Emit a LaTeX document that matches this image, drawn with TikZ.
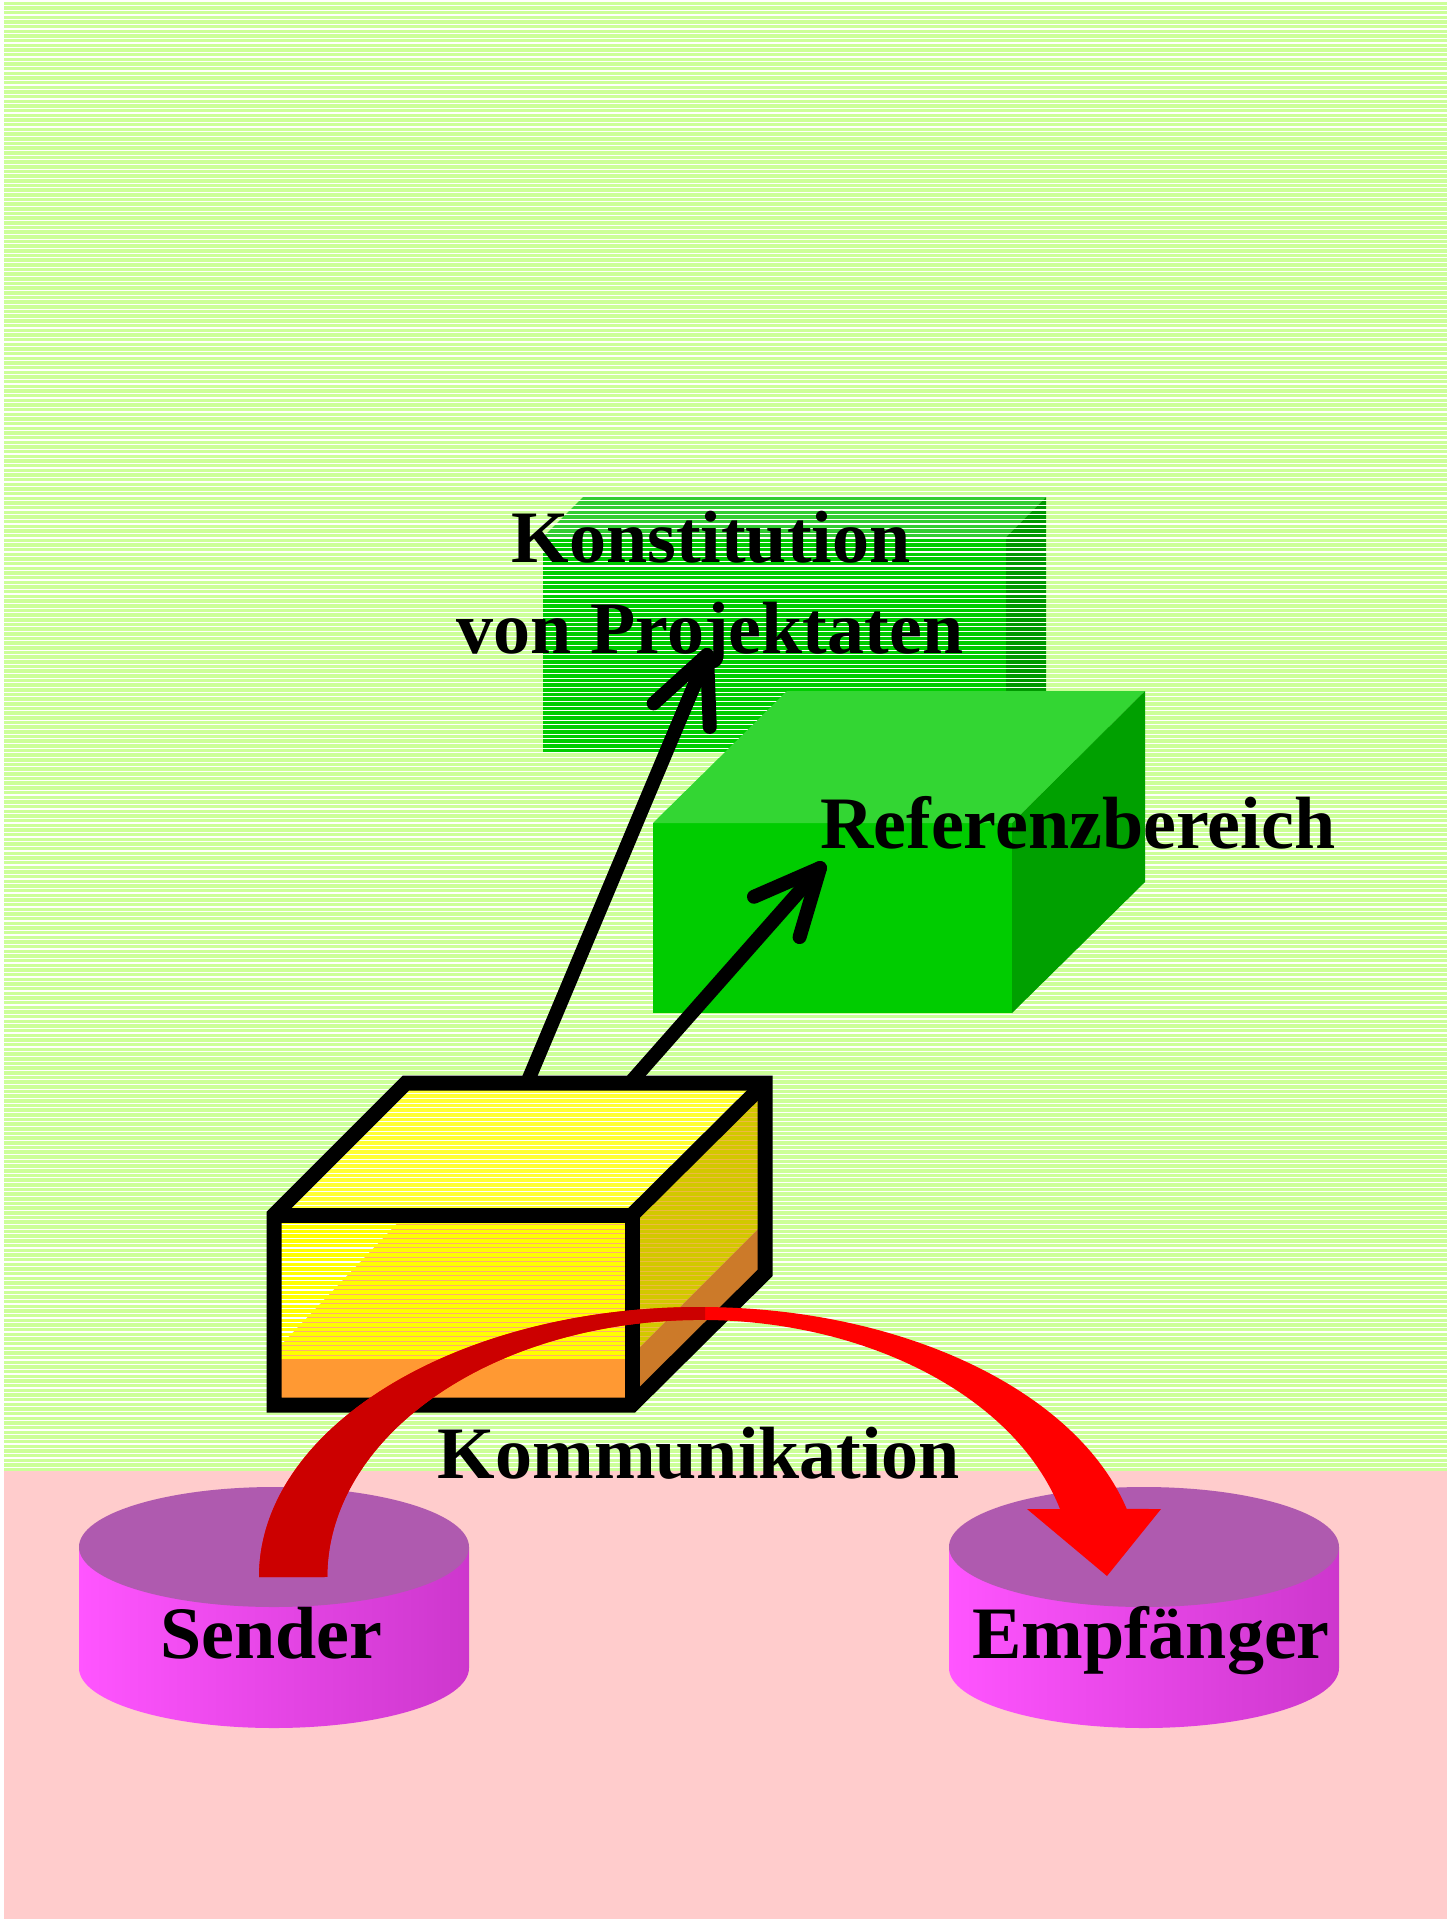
\documentclass[tikz,border=0pt]{standalone}
\usepackage{fontspec}
\setmainfont{Liberation Serif}
\usetikzlibrary{calc}
\definecolor{bggreen}{RGB}{204,255,153}
\definecolor{bgpink}{RGB}{255,204,204}
\definecolor{kfront}{RGB}{0,204,0}
\definecolor{ktop}{RGB}{51,204,51}
\definecolor{kside}{RGB}{0,153,0}
\definecolor{rtop}{RGB}{51,214,51}
\definecolor{rside}{RGB}{0,160,0}
\definecolor{yfront}{RGB}{255,255,0}
\definecolor{ytop}{RGB}{255,255,51}
\definecolor{yside}{RGB}{210,200,0}
\definecolor{orfront}{RGB}{255,153,51}
\definecolor{orside}{RGB}{204,122,41}
\definecolor{ystripe}{RGB}{255,175,110}
\definecolor{cyltop}{RGB}{175,90,175}
\definecolor{cylleft}{RGB}{255,85,255}
\definecolor{cylright}{RGB}{205,55,205}
\definecolor{darkred}{RGB}{204,0,0}
\definecolor{brightred}{RGB}{255,0,0}
\begin{document}
\begin{tikzpicture}[x=1pt,y=-1pt,
  lbl/.style={font=\bfseries\fontsize{74}{80}\selectfont, inner sep=0pt, anchor=base},
  stripe/.style={white, line width=1.2pt},
  boxline/.style={line width=15pt, line join=miter, black},
  arr/.style={line width=14pt, line cap=round, line join=round, black}]
\useasboundingbox (0,0) rectangle (1447,1919);
% background
\fill[white] (0,0) rectangle (1447,1919);
\fill[bggreen] (4,0) rectangle (1447,1471);
\fill[bgpink] (4,1471) rectangle (1447,1919);
% Konstitution box (under the stripes)
\fill[kfront] (543,537) rectangle (1006,752);
\fill[ktop] (543,537) -- (583,497) -- (1046,497) -- (1006,537) -- cycle;
\fill[kside] (1006,537) -- (1046,497) -- (1046,712) -- (1006,752) -- cycle;
% stripes of the green area
\foreach \i in {0,...,314} {\draw[stripe] (4,{\i*4.67+1}) -- (1447,{\i*4.67+1});}
% Referenzbereich box
\fill[kfront] (653,823) rectangle (1012,1013);
\fill[rtop] (653,823) -- (787,691) -- (1145,691) -- (1012,823) -- cycle;
\fill[rside] (1012,823) -- (1145,691) -- (1145,882) -- (1012,1013) -- cycle;
% black arrows
\coordinate (a1s) at (527,1083);
\coordinate (a1t) at (707,655);
\coordinate (a2s) at (630,1083);
\coordinate (a2t) at (820,868);
\draw[arr] (a1s) -- (a1t);
\draw[arr] ($(a1t)!72pt!25:(a1s)$) -- (a1t) -- ($(a1t)!72pt!-25:(a1s)$);
\draw[arr] (a2s) -- (a2t);
\draw[arr] ($(a2t)!72pt!25:(a2s)$) -- (a2t) -- ($(a2t)!72pt!-25:(a2s)$);
% yellow box
\fill[ytop] (274,1215) -- (406,1083) -- (765,1083) -- (632,1215) -- cycle;
\begin{scope}
  \clip (274,1215) -- (406,1083) -- (765,1083) -- (632,1215) -- cycle;
  \foreach \i in {230,...,262} {\draw[stripe] (270,{\i*4.67+1}) -- (770,{\i*4.67+1});}
\end{scope}
\fill[yfront] (274,1215) rectangle (632,1359);
\begin{scope}
  \clip (274,1215) rectangle (632,1359);
  \foreach \i in {258,...,292} {\draw[ystripe, line width=1pt] (270,{\i*4.67+1}) -- (640,{\i*4.67+1});}
  \clip (274,1215) -- (405,1215) -- (274,1352) -- cycle;
  \foreach \i in {258,...,292} {\draw[stripe] (270,{\i*4.67+1}) -- (640,{\i*4.67+1});}
\end{scope}
\fill[orfront] (274,1359) rectangle (632,1405);
\fill[yside] (632,1215) -- (765,1083) -- (765,1222) -- (632,1355) -- cycle;
\begin{scope}
  \clip (632,1215) -- (765,1083) -- (765,1222) -- (632,1355) -- cycle;
  \foreach \i in {230,...,292} {\draw[ystripe, line width=1pt, opacity=0.6] (625,{\i*4.67+1}) -- (770,{\i*4.67+1});}
\end{scope}
\fill[orside] (632,1355) -- (765,1222) -- (765,1273) -- (632,1405) -- cycle;
\draw[boxline] (274,1215) -- (406,1083) -- (765,1083) -- (765,1273) -- (632,1405) -- (274,1405) -- cycle;
\draw[boxline] (274,1215) -- (632,1215) -- (632,1405);
\draw[boxline] (632,1215) -- (765,1083);
% cylinders
\shade[left color=cylleft, right color=cylright] (79,1547) -- (79,1668) arc[start angle=180, end angle=0, x radius=195, y radius=60] -- (469,1547) -- cycle;
\fill[cyltop] (274,1547) ellipse [x radius=195, y radius=60];
\shade[left color=cylleft, right color=cylright] (949,1547) -- (949,1668) arc[start angle=180, end angle=0, x radius=195, y radius=60] -- (1339,1547) -- cycle;
\fill[cyltop] (1144,1547) ellipse [x radius=195, y radius=60];
% red curved arrow
\fill[brightred] (259,1577) arc[start angle=180, end angle=345.4, x radius=441, y radius=270] -- (1161,1509) -- (1107,1576) -- (1027,1509) -- (1060,1509) arc[start angle=344.66, end angle=180, x radius=373, y radius=257] -- cycle;
\begin{scope}
  \clip (0,0) rectangle (705,1919);
  \fill[darkred] (259,1577) arc[start angle=180, end angle=345.4, x radius=441, y radius=270] -- (1161,1509) -- (1107,1576) -- (1027,1509) -- (1060,1509) arc[start angle=344.66, end angle=180, x radius=373, y radius=257] -- cycle;
\end{scope}
% labels
\node[lbl] (konstA) at (711,562) {Konstitution};
\node[lbl] (konstB) at (710,653) {von Projektaten};
\node[lbl, anchor=base west] (referenz) at (820,848) {Referenzbereich};
\node[lbl] (kommunikation) at (699,1478) {Kommunikation};
\node[lbl] (sender) at (271,1658) {Sender};
\node[lbl] (empfaenger) at (1151,1658) {Empfänger};
\end{tikzpicture}
\end{document}
